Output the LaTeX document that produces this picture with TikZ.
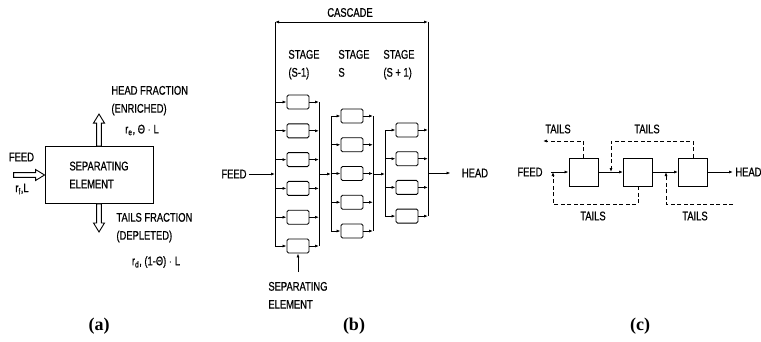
\documentclass[tikz,border=0pt]{standalone}
\usepackage{fontspec}
\usetikzlibrary{arrows.meta,positioning}
\newfontfamily\lblfont[FakeStretch=0.75,FakeBold=0.6]{Liberation Sans}
\newfontfamily\capfont{Liberation Serif}
\tikzset{
  elem/.style={draw,rounded corners=1.5pt,minimum width=22pt,minimum height=14pt,inner sep=0pt},
  unit/.style={draw,minimum width=29pt,minimum height=28pt,inner sep=0pt},
  lbl/.style={inner sep=0pt,align=left},
  tails/.style={dash pattern=on 4pt off 2.5pt},
  caption/.style={inner sep=0pt,font=\capfont\bfseries\fontsize{18}{20}\selectfont},
  pics/hollow/.style={code={
    \draw[fill=white,line join=miter] (0,-2.4) -- (#1-9,-2.4) -- (#1-9,-5.5) -- (#1,0)
      -- (#1-9,5.5) -- (#1-9,2.4) -- (0,2.4) -- cycle;}}
}

\begin{document}
\begin{tikzpicture}[x=1pt,y=-1pt,line width=0.9pt,>={Latex[length=4pt,width=3pt]},
  font=\lblfont\fontsize{12.5}{18}\selectfont]
\useasboundingbox[fill=white] (0,0) rectangle (761,341);

% (a) single separating element
\node[draw,minimum width=108pt,minimum height=57pt,align=left] (sep) at (99,175) {SEPARATING\\ELEMENT};
\pic at ([xshift=-31pt]sep.west) {hollow=31};
\pic[rotate=90] at (sep.north) {hollow=32};
\pic[rotate=-90] at (sep.south) {hollow=28};
\node[lbl] (feeda) at (21.5,157) {FEED};
\node[lbl] at (22,189) {r\textsubscript{f},L};
\node[lbl,anchor=north west] (headfr) at (111,85.5) {HEAD FRACTION\\(ENRICHED)};
\node[lbl] at (142,130) {r\textsubscript{e}, Θ $\cdot$ L};
\node[lbl,anchor=north west] (tailfr) at (116,212.5) {TAILS FRACTION\\(DEPLETED)};
\node[lbl] at (156,262) {r\textsubscript{d}, (1-Θ) $\cdot$ L};
\node[caption] at (99,326) {(a)};

% (b) cascade of stages
\coordinate (lb1) at (275,22);  \coordinate (rb1) at (319,22);
\coordinate (lb2) at (331,22);  \coordinate (rb2) at (373,22);
\coordinate (lb3) at (385,22);  \coordinate (rb3) at (428,22);
\foreach \i in {1,...,6}{
  \node[elem] (a\i) at (298,{102+28.8*(\i-1)}) {};
  \draw[->] (a\i.west -| lb1) -- (a\i.west);
  \draw[->] (a\i.east) -- (a\i.east -| rb1);
}
\foreach \i in {1,...,5}{
  \node[elem] (b\i) at (352,{116+28.75*(\i-1)}) {};
  \draw[->] (b\i.west -| lb2) -- (b\i.west);
  \draw[->] (b\i.east) -- (b\i.east -| rb2);
}
\foreach \i in {1,...,4}{
  \node[elem] (c\i) at (407,{130+28.7*(\i-1)}) {};
  \draw[->] (c\i.west -| lb3) -- (c\i.west);
  \draw[->] (c\i.east) -- (c\i.east -| rb3);
}
\draw (lb1) -- (lb1 |- a6.west);
\draw (rb1 |- a1.east) -- (rb1 |- a6.east);
\draw (lb2 |- b1.west) -- (lb2 |- b5.west);
\draw (rb2 |- b1.east) -- (rb2 |- b5.east);
\draw (lb3 |- c1.west) -- (lb3 |- c4.west);
\draw (rb3) -- (rb3 |- c4.east);
\draw[<->] (lb1) -- (rb3);
\node[lbl] (casc) at (350,12.5) {CASCADE};
\node[lbl,anchor=north west] at (288,49.5) {STAGE\\(S-1)};
\node[lbl,anchor=north west] at (338,49.5) {STAGE\\S};
\node[lbl,anchor=north west] at (383,49.5) {STAGE\\(S + 1)};
\node[lbl] (feedb) at (234,174) {FEED};
\node[lbl] (headb) at (475,173) {HEAD};
\draw[->,shorten <=2pt] (feedb.east) -- (feedb -| lb1);
\draw[->] (rb1 |- feedb) -- (lb2 |- feedb);
\draw[->] (rb2 |- feedb) -- (lb3 |- feedb);
\draw[->,shorten >=11pt] (rb3 |- headb) -- (headb.west);
\node[lbl,anchor=north west] (sepb) at (268,281.5) {SEPARATING\\ELEMENT};
\draw[->] (298,272) -- (a6.south);
\node[caption] at (354,326) {(b)};

% (c) stages with tails recycle
\node[unit] (u1) at (583.5,172) {};
\node[unit] (u2) at (638,172) {};
\node[unit] (u3) at (693,172) {};
\node[lbl] (feedc) at (530,172) {FEED};
\node[lbl,anchor=west] (headc) at (735,172) {HEAD};
\coordinate (j1) at (553,172);
\coordinate (j2) at (611,172);
\coordinate (j3) at (666,172);
\draw[->,shorten <=8pt] (feedc.east) -- (u1.west);
\draw[->] (u1.east) -- (u2.west);
\draw[->] (u2.east) -- (u3.west);
\draw[->,shorten >=2pt] (u3.east) -- (headc.west);
\coordinate (t1) at (543,141);
\coordinate (t4) at (733,204);
\draw[tails,->] (u1.north) |- (t1);
\draw[tails,->] (u3.north) |- (j2 |- t1) -- (j2);
\draw[tails,->] (u2.south) |- (j1 |- t4) -- (j1);
\draw[tails,->] (t4) -- (j3 |- t4) -- (j3);
\node[lbl] at (558,129) {TAILS};
\node[lbl] at (647,129) {TAILS};
\node[lbl] at (593,216) {TAILS};
\node[lbl] at (695,216) {TAILS};
\node[caption] at (640,326) {(c)};
\end{tikzpicture}
\end{document}
